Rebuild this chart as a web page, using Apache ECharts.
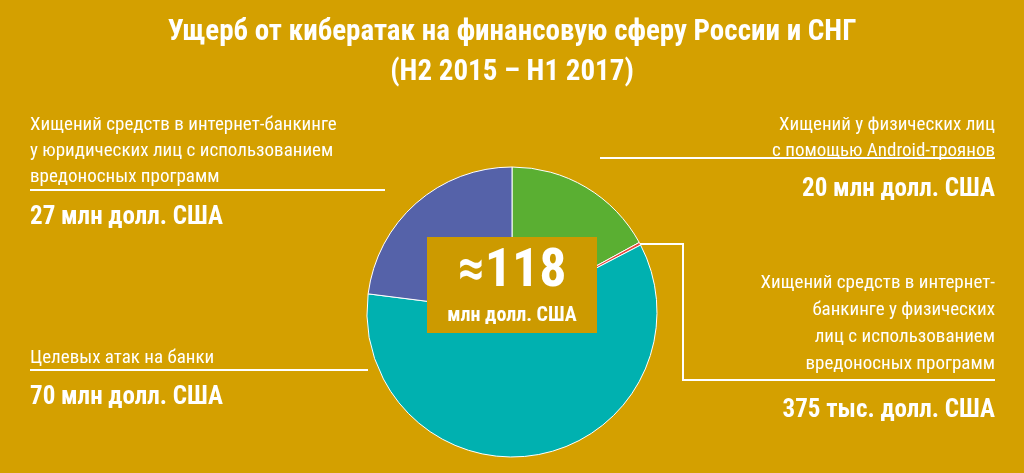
<!DOCTYPE html>
<html><head><meta charset="utf-8">
<script src="https://cdn.jsdelivr.net/npm/echarts@6/dist/echarts.min.js"></script>
<style>html,body{margin:0;padding:0;background:#D4A000}#c{width:1024px;height:473px}</style>
</head><body><div id="c"></div>
<script>
const categories=['Хищений у физических лиц с помощью Android-троянов','Хищений средств в интернет-банкинге у физических лиц','Целевых атак на банки','Хищений средств в интернет-банкинге у юридических лиц'];
const values=[20,0.375,70,27];
const colors=['#5AAF32','#E8453C','#00B1B0','#5562A9'];
const F='"Liberation Sans Narrow","Roboto Condensed","Roboto",sans-serif';
const chart=echarts.init(document.getElementById('c'));
function t(x,y,text,size,weight,align,lh){return {type:'text',z:100,x:x,y:y,style:{text:text,fill:'#fff',font:(weight||'normal')+' '+size+'px '+F,textAlign:align||'left',lineHeight:lh||size*1.2}};}
function l(pts){return {type:'polyline',z:100,shape:{points:pts},style:{stroke:'#fff',lineWidth:2,fill:null}};}
chart.setOption({
 backgroundColor:'#D4A000',
 series:[{type:'pie',z:1,center:[512,312],radius:[0,145],startAngle:90,clockwise:true,label:{show:false},labelLine:{show:false},
  itemStyle:{borderColor:'#fff',borderWidth:1},silent:true,
  data:categories.map((c,i)=>({name:c,value:values[i],itemStyle:{color:colors[i]}}))}],
 graphic:[
  t(512,14,'Ущерб от кибератак на финансовую сферу России и СНГ',29,'bold','center',38),
  t(512,54,'(H2 2015 – H1 2017)',29,'bold','center',38),
  l([[30,190],[385,190]]),
  t(30,112,'Хищений средств в интернет-банкинге\nу юридических лиц с использованием\nвредоносных программ',19,'normal','left',26),
  t(30,202,'27 млн долл. США',25,'bold','left',32),
  l([[600,158],[995,158]]),
  t(995,112,'Хищений у физических лиц\nс помощью Android-троянов',19,'normal','right',26),
  t(995,174,'20 млн долл. США',25,'bold','right',32),
  l([[640,244],[683,244],[683,380],[995,380]]),
  t(995,270,'Хищений средств в интернет-\nбанкинге у физических\nлиц с использованием\nвредоносных программ',19,'normal','right',27),
  t(995,395,'375 тыс. долл. США',25,'bold','right',32),
  l([[30,370],[368,370]]),
  t(30,345,'Целевых атак на банки',19,'normal','left',26),
  t(30,382,'70 млн долл. США',25,'bold','left',32),
  {type:'rect',z:100,shape:{x:427,y:237,width:170,height:96},style:{fill:'#CC9A00'}},
  t(512,242,'≈118',54,'bold','center',60),
  t(512,303,'млн долл. США',20,'bold','center',26)
 ]
});
</script></body></html>
